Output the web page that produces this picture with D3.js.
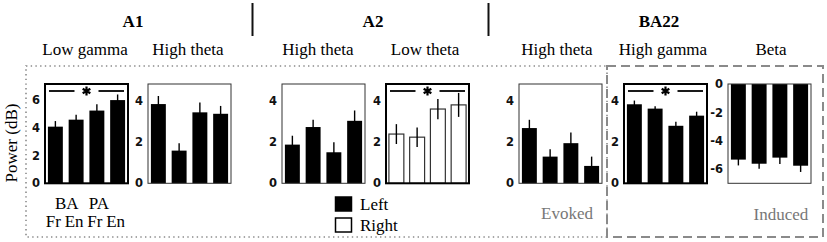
<!DOCTYPE html>
<html><head><meta charset="utf-8">
<script src="https://cdn.jsdelivr.net/npm/d3@7"></script>
<style>body{margin:0;background:#fff}svg{display:block}</style>
</head><body><svg id="c" width="827" height="242"></svg>
<script>
// ---- data ----
const categories = ["BA Fr", "BA En", "PA Fr", "PA En"];
const groupLabels = ["BA", "PA"];
const condLabels = ["Fr", "En", "Fr", "En"];
const regions = ["A1", "A2", "BA22"];
const bands = ["Low gamma", "High theta", "High theta", "Low theta", "High theta", "High gamma", "Beta"];
const hemispheres = ["Left", "Right"];
const responseTypes = ["Evoked", "Induced"];

const a1LowGamma = [4.05, 4.55, 5.2, 5.95];
const a1LowGammaErr = [0.4, 0.35, 0.45, 0.4];
const a1HighTheta = [3.83, 1.58, 3.43, 3.36];
const a1HighThetaErr = [0.39, 0.35, 0.47, 0.38];
const a2HighTheta = [1.87, 2.72, 1.5, 3.02];
const a2HighThetaErr = [0.43, 0.35, 0.49, 0.5];
const a2LowTheta = [2.38, 2.23, 3.59, 3.79];
const a2LowThetaErr = [0.48, 0.47, 0.49, 0.58];
const ba22HighTheta = [2.67, 1.29, 1.94, 0.84];
const ba22HighThetaErr = [0.4, 0.36, 0.52, 0.45];
const ba22HighGamma = [3.82, 3.61, 2.78, 3.27];
const ba22HighGammaErr = [0.18, 0.11, 0.19, 0.19];
const ba22Beta = [-5.33, -5.62, -5.19, -5.76];
const ba22BetaErr = [0.41, 0.35, 0.45, 0.44];

const ticksA = [0, 2, 4, 6];
const ticksB = [0, 2, 4];
const ticksBeta = [0, -2, -4, -6];

const panelValues = [a1LowGamma, a1HighTheta, a2HighTheta, a2LowTheta, ba22HighTheta, ba22HighGamma, ba22Beta];
const panelErrors = [a1LowGammaErr, a1HighThetaErr, a2HighThetaErr, a2LowThetaErr, ba22HighThetaErr, ba22HighGammaErr, ba22BetaErr];
const panelDomains = [[0, 7.1], [0, 4.8], [0, 4.8], [0, 4.8], [0, 4.8], [0, 4.8], [-7, 0]];
const panelTicks = [ticksA, ticksB, ticksB, ticksB, ticksB, ticksB, ticksBeta];
const panelHemi = [0, 0, 0, 1, 0, 0, 0];       // 0 = Left (filled), 1 = Right (open)
const panelSignificant = [true, false, false, true, false, true, false];

// ---- layout ----
const panelLeft = [45, 148, 282, 386, 519, 624, 728];
const PW = 83, PT = 84, PB = 183.3;
const titleX = [133, 373, 659];
const subX = [85, 188, 318, 425, 557, 663, 771];
const SERIF = "'Liberation Serif','Times New Roman',serif";
const SANS = "'DejaVu Sans',Verdana,sans-serif";

const svg = d3.select("#c");

// outer boxes
svg.append("rect").attr("x", 26).attr("y", 66).attr("width", 607 - 26).attr("height", 237 - 66)
  .attr("fill", "none").attr("stroke", "#8a8a8a").attr("stroke-width", 1.6)
  .attr("stroke-dasharray", "1.4 3.3");
svg.append("rect").attr("x", 607).attr("y", 66).attr("width", 823 - 607).attr("height", 237 - 66)
  .attr("fill", "none").attr("stroke", "#8a8a8a").attr("stroke-width", 2)
  .attr("stroke-dasharray", "9 5");

// separators
[252.5, 488.5].forEach(sx => {
  svg.append("line").attr("x1", sx).attr("x2", sx).attr("y1", 3).attr("y2", 36)
    .attr("stroke", "#111").attr("stroke-width", 2);
});

// region titles
svg.selectAll("text.region").data(regions).join("text").attr("class", "region")
  .attr("x", (d, i) => titleX[i]).attr("y", 27).attr("text-anchor", "middle")
  .style("font-family", SERIF).style("font-weight", "bold").style("font-size", "17px").text(d => d);

// band subtitles
svg.selectAll("text.band").data(bands).join("text").attr("class", "band")
  .attr("x", (d, i) => subX[i]).attr("y", 55).attr("text-anchor", "middle")
  .style("font-family", SERIF).style("font-size", "17px").text(d => d);

// y label
svg.append("text").attr("transform", "translate(17,143) rotate(-90)").attr("text-anchor", "middle")
  .style("font-family", SERIF).style("font-size", "17px").text("Power (dB)");

let firstX = null;
panelValues.forEach((vals, p) => {
  const left = panelLeft[p];
  const x = d3.scaleBand().domain(categories).range([left, left + PW]).paddingInner(0.28).paddingOuter(0.14);
  const y = d3.scaleLinear().domain(panelDomains[p]).range([PB, PT]);
  if (p === 0) firstX = x;
  const g = svg.append("g");
  const open = panelHemi[p] === 1;

  g.selectAll("rect.bar").data(vals).join("rect").attr("class", "bar")
    .attr("x", (d, i) => x(categories[i]))
    .attr("width", x.bandwidth())
    .attr("y", d => Math.min(y(d), y(0)))
    .attr("height", d => Math.abs(y(d) - y(0)))
    .attr("fill", open ? "#fff" : "#000")
    .attr("stroke", open ? "#333" : "none").attr("stroke-width", 1.2);

  g.selectAll("line.err").data(vals).join("line").attr("class", "err")
    .attr("x1", (d, i) => x(categories[i]) + x.bandwidth() / 2)
    .attr("x2", (d, i) => x(categories[i]) + x.bandwidth() / 2)
    .attr("y1", (d, i) => y(d - panelErrors[p][i]))
    .attr("y2", (d, i) => y(d + panelErrors[p][i]))
    .attr("stroke", "#000").attr("stroke-width", 1.4);

  const sig = panelSignificant[p];
  g.append("rect").attr("x", left).attr("y", PT).attr("width", PW).attr("height", PB - PT)
    .attr("fill", "none").attr("stroke", sig ? "#000" : "#333").attr("stroke-width", sig ? 2 : 1);

  const ax = g.append("g").attr("transform", `translate(${left},0)`)
    .call(d3.axisLeft(y).tickValues(panelTicks[p]).tickSize(0).tickPadding(5).tickFormat(d => String(d)));
  ax.select(".domain").remove();
  ax.selectAll("text").style("font-family", SANS).style("font-size", "11.5px").style("font-weight", "bold").attr("fill", "#111");

  if (sig) {
    const cx = left + PW / 2, sy = PT + 7;
    g.append("line").attr("x1", left + 4).attr("x2", cx - 12).attr("y1", sy).attr("y2", sy)
      .attr("stroke", "#000").attr("stroke-width", 1.8);
    g.append("line").attr("x1", cx + 12).attr("x2", left + PW - 4).attr("y1", sy).attr("y2", sy)
      .attr("stroke", "#000").attr("stroke-width", 1.8);
    g.append("path").attr("d", d3.symbol(d3.symbolAsterisk, 55)())
      .attr("transform", `translate(${cx},${sy})`).attr("stroke", "#000").attr("stroke-width", 2.2).attr("fill", "none");
  }
});

// category labels under first panel
const bc = i => firstX(categories[i]) + firstX.bandwidth() / 2;
svg.append("text").attr("x", (bc(0) + bc(1)) / 2 + 1).attr("y", 208.5).attr("text-anchor", "middle")
  .style("font-family", SERIF).style("font-size", "17px").text(groupLabels[0]);
svg.append("text").attr("x", bc(2) + 2).attr("y", 208.5).attr("text-anchor", "middle")
  .style("font-family", SERIF).style("font-size", "17px").text(groupLabels[1]);
svg.selectAll("text.cond").data(condLabels).join("text").attr("class", "cond")
  .attr("x", (d, i) => bc(i) - 2).attr("y", 227).attr("text-anchor", "middle")
  .style("font-family", SERIF).style("font-size", "17px").text(d => d);

// legend
hemispheres.forEach((h, i) => {
  const ly = 197 + i * 21;
  svg.append("rect").attr("x", 335.5).attr("y", ly).attr("width", 16).attr("height", 14)
    .attr("fill", i === 0 ? "#000" : "#fff").attr("stroke", "#000").attr("stroke-width", 1.5);
  svg.append("text").attr("x", 360).attr("y", ly + 13).style("font-family", SERIF).style("font-size", "17px").text(h);
});

// response type labels
svg.append("text").attr("x", 567).attr("y", 219).attr("text-anchor", "middle")
  .style("font-family", SERIF).style("font-size", "17px").attr("fill", "#777").text(responseTypes[0]);
svg.append("text").attr("x", 781).attr("y", 220).attr("text-anchor", "middle")
  .style("font-family", SERIF).style("font-size", "17px").attr("fill", "#777").text(responseTypes[1]);
</script>
</body></html>
